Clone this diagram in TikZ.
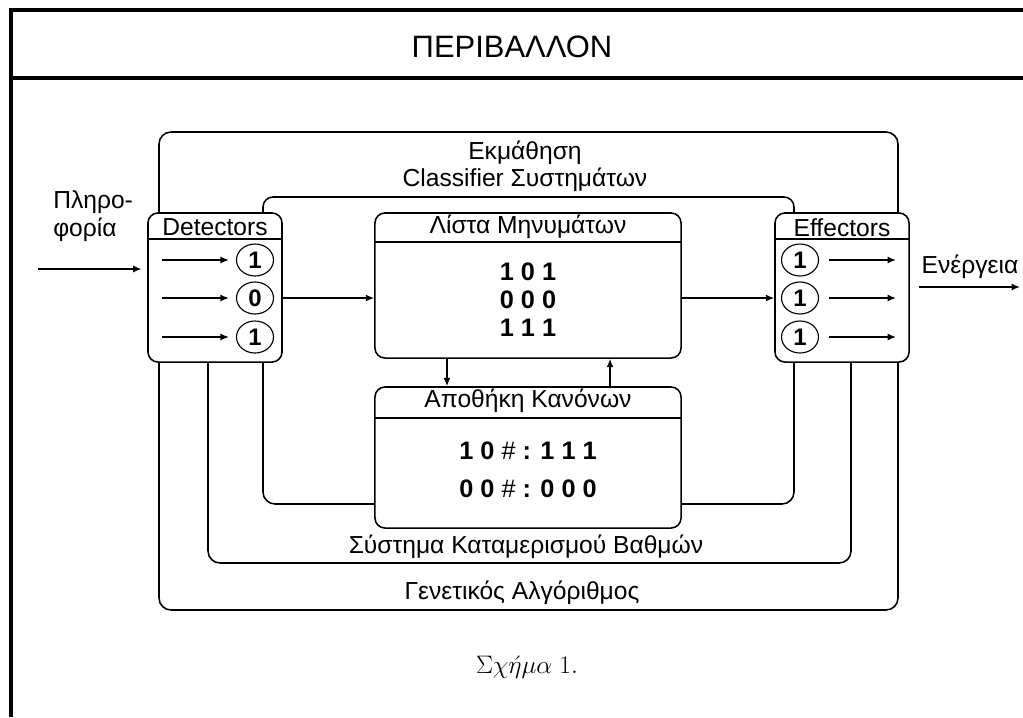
\RequirePackage{fix-cm}
\documentclass[tikz,border=0pt]{standalone}
\usepackage{fontspec}
\setmainfont{Liberation Sans}
\usetikzlibrary{positioning,shapes.geometric,arrows.meta}

\tikzset{
  box/.style={draw, rounded corners=0.25cm, line width=1.1pt, inner sep=0pt},
  bit/.style={draw, ellipse, minimum width=0.925cm, minimum height=0.8cm, inner sep=0pt,
    line width=0.8pt, font=\fontsize{17}{17}\selectfont\bfseries},
  arr/.style={-{Latex[length=6pt,width=5pt]}, line width=1pt},
  loopline/.style={line width=1.1pt, rounded corners=0.3cm},
  lbl/.style={font=\fontsize{17.5}{20}\selectfont, inner sep=0pt, align=center},
  bits/.style={font=\fontsize{18}{20}\selectfont\bfseries, inner sep=0pt, align=center},
}

\begin{document}
\begin{tikzpicture}[x=0.025cm, y=-0.025cm]
  \useasboundingbox (0,0) rectangle (1023,717);
  % Frame and title band
  \draw[line width=3.5pt] (11,8) -- (11,717);
  \draw[line width=3.5pt] (9,10) -- (1023,10);
  \draw[line width=3pt] (11,78) -- (1023,78);
  \node[font=\fontsize{22}{22}\selectfont] (env) at (512,47) {ΠΕΡΙΒΑΛΛΟΝ};

  % The four boxes
  \node[box, minimum width=3.35cm, minimum height=3.725cm] (det) at (215,287.5) {};
  \node[box, minimum width=3.35cm, minimum height=3.725cm] (eff) at (842,287.5) {};
  \node[box, minimum width=7.65cm, minimum height=3.625cm] (msg) at (528,285.5) {};
  \node[box, minimum width=7.65cm, minimum height=3.525cm] (rules) at (528,457.5) {};

  % Header lines and titles
  \draw[line width=1.1pt] ([yshift=-0.675cm]det.north west) -- ([yshift=-0.675cm]det.north east);
  \draw[line width=1.1pt] ([yshift=-0.675cm]eff.north west) -- ([yshift=-0.675cm]eff.north east);
  \draw[line width=1.1pt] ([yshift=-0.75cm]msg.north west) -- ([yshift=-0.75cm]msg.north east);
  \draw[line width=1.1pt] ([yshift=-0.8cm]rules.north west) -- ([yshift=-0.8cm]rules.north east);
  \node[lbl] (dettitle) at ([yshift=-0.375cm]det.north) {Detectors};
  \node[lbl] (efftitle) at ([yshift=-0.375cm]eff.north) {Effectors};
  \node[lbl] (msgtitle) at ([yshift=-0.375cm]msg.north) {Λίστα Μηνυμάτων};
  \node[lbl] (rulestitle) at ([yshift=-0.375cm]rules.north) {Αποθήκη Κανόνων};

  % Contents
  \node[bits] (msgbits) at (528,300) {1 0 1\\0 0 0\\1 1 1};
  \node[bits, font=\fontsize{18}{27}\selectfont\bfseries] (rulebits) at (528,470)
    {1 0 {\mdseries\#} : 1 1 1\\0 0 {\mdseries\#} : 0 0 0};

  % Detector and effector bits
  \foreach \i/\y/\b/\c in {1/260/1/1, 2/298/0/1, 3/337/1/1} {
    \node[bit] (d\i) at (255,\y) {\b};
    \node[bit] (e\i) at (800,\y) {\c};
    \coordinate (din\i) at (162,\y);
    \coordinate (eout\i) at (896,\y);
    \draw[arr, shorten >=5pt] (din\i) -- (d\i.west);
    \draw[arr, shorten <=7pt] (e\i.east) -- (eout\i);
  }

  % Input and output
  \coordinate (infoin) at (38,269);
  \coordinate (actout) at (1020,287);
  \draw[arr, shorten >=4pt] (infoin) -- (det.west |- infoin);
  \draw[arr, shorten <=0.225cm] (eff.east |- actout) -- (actout);
  \node[lbl, align=left, anchor=west] (info) at (53,216) {Πληρο-\\φορία};
  \node[lbl] (act) at (970,267) {Ενέργεια};

  % Flow between boxes
  \draw[arr] (det.east |- d2) -- (msg.west |- d2);
  \draw[arr] (msg.east |- e2) -- (eff.west |- e2);
  \draw[arr] ([xshift=-2.025cm]msg.south) -- ([xshift=-2.025cm]rules.north);
  \draw[arr] ([xshift=2.05cm]rules.north) -- ([xshift=2.05cm]msg.south);

  % Loops
  \coordinate (learnL) at (159,132);
  \coordinate (learnR) at (898,132);
  \coordinate (innerL) at (263,197);
  \coordinate (innerR) at (794,197);
  \coordinate (gaL) at (159,610);
  \coordinate (gaR) at (898,610);
  \coordinate (caL) at (208,563);
  \coordinate (caR) at (851,563);
  \coordinate (ruleL) at (263,504);
  \coordinate (ruleR) at (794,504);
  \draw[loopline] (det.north -| learnL) -- (learnL) -- (learnR) -- (eff.north -| learnR);
  \draw[loopline, rounded corners=0.25cm] (det.north -| innerL) -- (innerL) -- (innerR) -- (eff.north -| innerR);
  \draw[loopline] (det.south -| gaL) -- (gaL) -- (gaR) -- (eff.south -| gaR);
  \draw[loopline] (det.south -| caL) -- (caL) -- (caR) -- (eff.south -| caR);
  \draw[loopline] (det.south -| ruleL) -- (ruleL) -- (rules.west |- ruleL);
  \draw[loopline] (rules.east |- ruleR) -- (ruleR) -- (eff.south -| ruleR);

  % Loop labels
  \node[lbl, font=\fontsize{17.5}{19}\selectfont] (learn) at (525,166.5) {Εκμάθηση\\Classifier Συστημάτων};
  \node[lbl] (credit) at (526,547) {Σύστημα Καταμερισμού Βαθμών};
  \node[lbl] (ga) at (522,593) {Γενετικός Αλγόριθμος};

  % Caption
  \node[font=\fontsize{18}{20}\selectfont] (caption) at (527,667) {$\Sigma\chi\acute{\eta}\mu\alpha\ 1.$};
\end{tikzpicture}
\end{document}
